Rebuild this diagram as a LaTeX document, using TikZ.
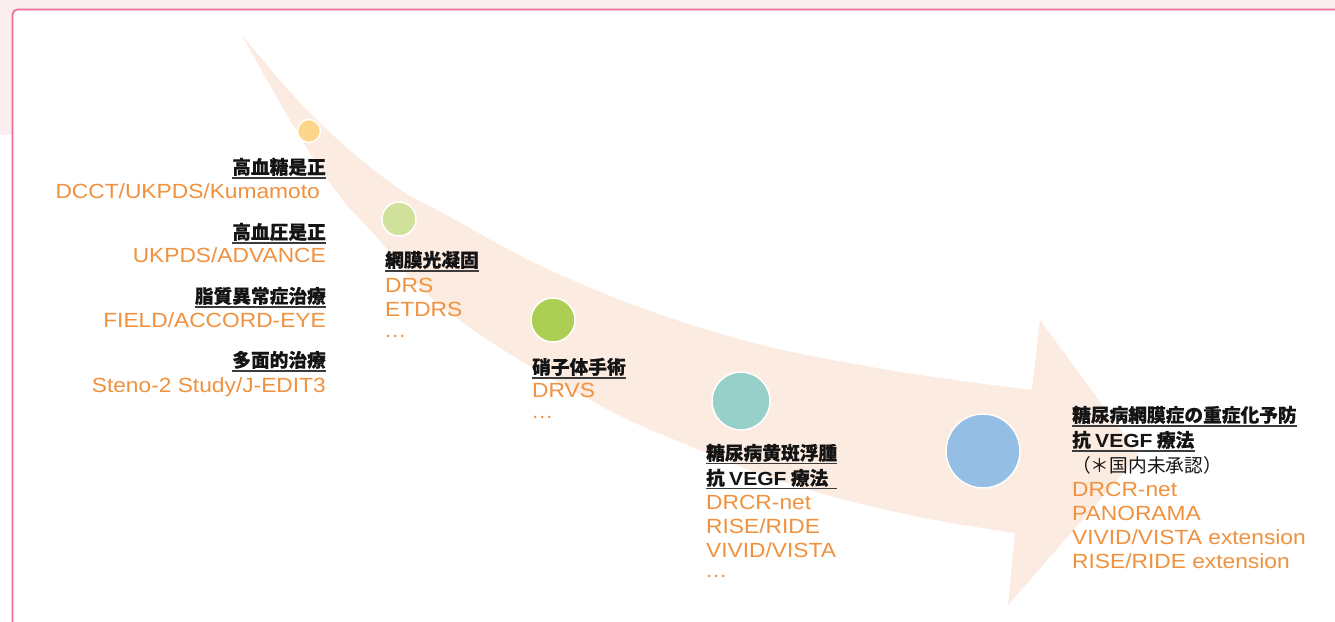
\documentclass[tikz,border=0pt]{standalone}
\usepackage{fontspec}
\newfontfamily\jp[BoldFeatures={FakeBold=0.4}]{Noto Sans CJK JP}
\newfontfamily\lat[FakeStretch=1.11]{Liberation Sans}
\definecolor{bgpink}{RGB}{251,238,241}
\definecolor{borderpink}{RGB}{240,110,150}
\definecolor{bandc}{RGB}{252,235,224}
\definecolor{orangec}{RGB}{240,145,62}
\definecolor{headc}{RGB}{20,20,20}
\definecolor{linec}{RGB}{60,60,60}
\definecolor{cyel}{RGB}{253,214,137}
\definecolor{clgreen}{RGB}{207,225,155}
\definecolor{cgreen}{RGB}{171,206,83}
\definecolor{cteal}{RGB}{150,208,200}
\definecolor{cblue}{RGB}{148,190,228}
\newcommand{\vegf}{{\lat\bfseries\fontsize{19}{22}\selectfont VEGF}}
\begin{document}
\begin{tikzpicture}[x=1pt,y=-1pt,
  head/.style={inner sep=0pt, font=\jp\bfseries\fontsize{18.7}{22}\selectfont, text=headc},
  note/.style={inner sep=0pt, font=\jp\fontsize{18.7}{22}\selectfont, text=headc},
  refs/.style={inner sep=0pt, font=\lat\fontsize{20.5}{24}\selectfont, text=orangec},
  dots/.style={inner sep=0pt, font=\jp\fontsize{18.7}{22}\selectfont, text=orangec},
  uline/.style={draw=linec, line width=1.5pt},
  dot/.style={circle, draw=white, line width=1.5pt, inner sep=0pt}]
\useasboundingbox (0,0) rectangle (1335,621);
\begin{scope}
\clip (0,0) rectangle (1335,621);
\fill[white] (0,0) rectangle (1335,621);
\fill[bgpink] (0,0) rectangle (1335,10);
\fill[bgpink] (0,0) rectangle (12,135);
\draw[borderpink, line width=1.8pt, rounded corners=5pt, fill=white] (12.5,9.5) rectangle (1400,700);
\end{scope}
% band arrow
\fill[bandc] plot[smooth, tension=0.7] coordinates {(242,35) (310,113) (387,180) (450,217) (565,277) (718,333) (871,367) (1032,390)}
  -- (1040,320) -- (1139,455) -- (1008,605) -- (1015,533)
  -- plot[smooth, tension=0.7] coordinates {(1015,533) (910,515) (800,487) (700,450) (590,400) (450,313) (373,233) (333,187) (290,120) (242,35)} -- cycle;
% circles
\node[dot, fill=cyel, minimum size=23pt] (c1) at (309,131) {};
\node[dot, fill=clgreen, minimum size=34pt] (c2) at (399,219) {};
\node[dot, fill=cgreen, minimum size=44pt] (c3) at (553,320) {};
\node[dot, fill=cteal, minimum size=58pt] (c4) at (741,401) {};
\node[dot, fill=cblue, minimum size=74pt] (c5) at (983,451) {};
% left group
\node[head, anchor=base east] (h1) at (326,174) {高血糖是正};
\node[refs, anchor=base east] (r1) at (320,198) {DCCT/UKPDS/Kumamoto};
\node[head, anchor=base east] (h2) at (326,239) {高血圧是正};
\node[refs, anchor=base east] (r2) at (326,262) {UKPDS/ADVANCE};
\node[head, anchor=base east] (h3) at (326,303) {脂質異常症治療};
\node[refs, anchor=base east] (r3) at (326,327) {FIELD/ACCORD-EYE};
\node[head, anchor=base east] (h4) at (326,367) {多面的治療};
\node[refs, anchor=base east] (r4) at (326,392) {Steno-2 Study/J-EDIT3};
\foreach \h in {h1,h2,h3,h4}
  \draw[uline] ([yshift=-3.8pt]\h.base west) -- ([yshift=-3.8pt]\h.base east);
% middle 1
\node[head, anchor=base west] (h5) at (385,267) {網膜光凝固};
\draw[uline] ([yshift=-4pt]h5.base west) -- ([yshift=-4pt]h5.base east);
\node[refs, anchor=base west] (r5a) at (385,292) {DRS};
\node[refs, anchor=base west] (r5b) at (385,316) {ETDRS};
\node[dots, anchor=base west] (d5) at (385,337) {…};
% middle 2
\node[head, anchor=base west] (h6) at (532,374) {硝子体手術};
\draw[uline] ([yshift=-4pt]h6.base west) -- ([yshift=-4pt]h6.base east);
\node[refs, anchor=base west] (r6a) at (532,397) {DRVS};
\node[dots, anchor=base west] (d6) at (532,418) {…};
% middle 3
\node[head, anchor=base west] (h7a) at (706,460) {糖尿病黄斑浮腫};
\node[head, anchor=base west] (h7b) at (706,485) {抗 \vegf{} 療法};
\draw[uline] ([yshift=-3.5pt]h7a.base west) -- ([yshift=-3.5pt]h7a.base east);
\draw[uline] ([yshift=-3.5pt]h7b.base west) -- ([yshift=-3.5pt]h7b.base west -| h7a.base east);
\node[refs, anchor=base west] (r7a) at (706,509) {DRCR-net};
\node[refs, anchor=base west] (r7b) at (706,533) {RISE/RIDE};
\node[refs, anchor=base west] (r7c) at (706,557) {VIVID/VISTA};
\node[dots, anchor=base west] (d7) at (706,577) {…};
% right
\node[head, anchor=base west] (h8a) at (1072,422) {糖尿病網膜症の重症化予防};
\node[head, anchor=base west] (h8b) at (1072,447) {抗 \vegf{} 療法};
\draw[uline] ([yshift=-4pt]h8a.base west) -- ([yshift=-4pt]h8a.base east);
\draw[uline] ([yshift=-4pt]h8b.base west) -- ([yshift=-4pt]h8b.base east);
\node[note, anchor=base west] (n8) at (1072,472) {（＊国内未承認）};
\node[refs, anchor=base west] (r8a) at (1072,496) {DRCR-net};
\node[refs, anchor=base west] (r8b) at (1072,520) {PANORAMA};
\node[refs, anchor=base west] (r8c) at (1072,544) {VIVID/VISTA extension};
\node[refs, anchor=base west] (r8d) at (1072,568) {RISE/RIDE extension};
\end{tikzpicture}
\end{document}
